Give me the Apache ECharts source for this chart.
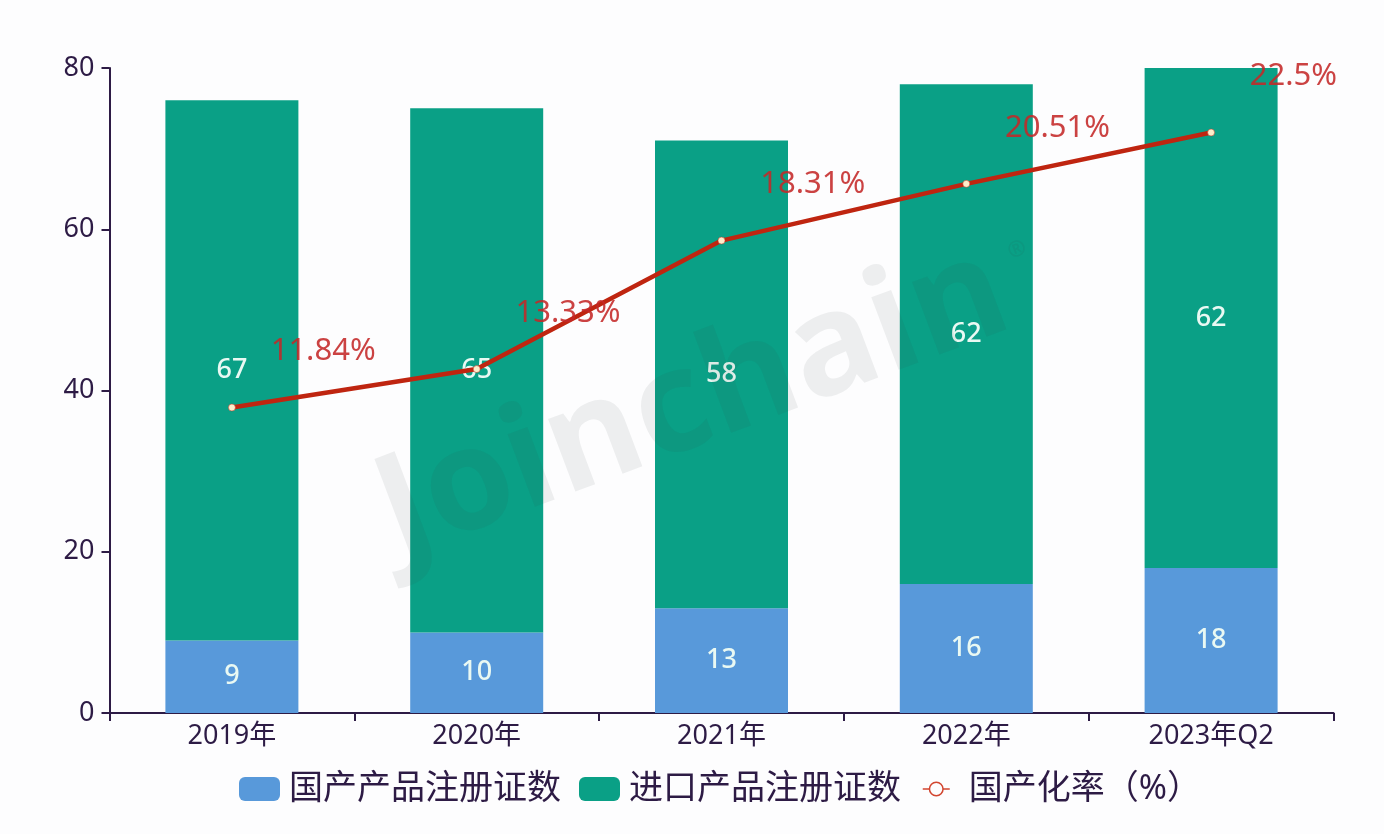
<!DOCTYPE html>
<html>
<head>
<meta charset="utf-8">
<style>
html, body { margin: 0; padding: 0; background: #fdfdfe; }
#chart { width: 1384px; height: 834px; }
</style>
<script src="https://cdn.jsdelivr.net/npm/echarts@6/dist/echarts.min.js"></script>
</head>
<body>
<div id="chart"></div>
<script>
const categories = ['2019年', '2020年', '2021年', '2022年', '2023年Q2'];
const domesticCounts = [9, 10, 13, 16, 18];
const importedCounts = [67, 65, 58, 62, 62];
const domesticRates = [11.84, 13.33, 18.31, 20.51, 22.5];

const textColor = '#2d1b45';
const fontFamily = '"Noto Sans", "Noto Sans CJK SC", sans-serif';

const myChart = echarts.init(document.getElementById('chart'));

const barLabel = {
    show: true,
    position: 'inside',
    color: '#e9f9f3',
    fontSize: 27,
    fontWeight: 500,
    fontFamily: fontFamily
};

const option = {
    animation: false,
    textStyle: { fontFamily: fontFamily },
    grid: { left: 109.5, top: 68, width: 1224, height: 645 },
    legend: [{
        data: ['国产产品注册证数', '进口产品注册证数'],
        left: 234,
        top: 767,
        itemWidth: 41,
        itemHeight: 24,
        itemGap: 18,
        itemStyle: { borderRadius: 6 },
        textStyle: { color: textColor, fontSize: 34, fontFamily: fontFamily, padding: [0, 0, 0, 4] }
    }, {
        data: ['国产化率（%）'],
        left: 917,
        top: 767,
        itemWidth: 27,
        itemHeight: 17,
        itemStyle: { color: '#fdfdfe', borderColor: '#d2452f', borderWidth: 1.5 },
        lineStyle: { color: '#d2452f', width: 1.5 },
        textStyle: { color: textColor, fontSize: 34, fontFamily: fontFamily, padding: [0, 0, 0, 14] }
    }],
    xAxis: {
        type: 'category',
        data: categories,
        axisLine: { lineStyle: { color: textColor, width: 2 } },
        axisTick: { show: true, length: 8, lineStyle: { color: textColor, width: 2 } },
        axisLabel: { color: textColor, fontSize: 27, margin: 10 }
    },
    yAxis: [{
        type: 'value',
        min: 0,
        max: 80,
        interval: 20,
        splitLine: { show: false },
        axisLine: { show: true, lineStyle: { color: textColor, width: 2 } },
        axisTick: { show: true, length: 8, lineStyle: { color: textColor, width: 2 } },
        axisLabel: { color: textColor, fontSize: 27, margin: 15 }
    }, {
        // 国产化率用隐藏的第二坐标轴
        type: 'value',
        min: 0,
        max: 25,
        show: false,
        splitLine: { show: false }
    }],
    graphic: [{
        type: 'text',
        x: 693,
        y: 404,
        rotation: 0.36,
        z: 3,
        style: {
            text: 'Joinchain',
            fill: 'rgba(50, 60, 70, 0.08)',
            font: 'bold 142px "Open Sans", sans-serif',
            align: 'center',
            verticalAlign: 'middle'
        }
    }, {
        type: 'text',
        x: 1017,
        y: 250,
        rotation: 0.36,
        z: 3,
        style: {
            text: '®',
            fill: 'rgba(50, 60, 70, 0.08)',
            font: 'bold 22px "Open Sans", sans-serif',
            align: 'center',
            verticalAlign: 'middle'
        }
    }],
    series: [{
        name: '国产产品注册证数',
        type: 'bar',
        stack: 'total',
        barWidth: 133,
        data: domesticCounts,
        itemStyle: { color: '#5899da' },
        label: barLabel
    }, {
        name: '进口产品注册证数',
        type: 'bar',
        stack: 'total',
        data: importedCounts,
        itemStyle: { color: '#0aa086' },
        label: barLabel
    }, {
        name: '国产化率（%）',
        type: 'line',
        yAxisIndex: 1,
        data: domesticRates,
        z: 5,
        symbol: 'circle',
        symbolSize: 7,
        lineStyle: { color: '#bf2510', width: 4.5 },
        itemStyle: { color: '#fdeecb', borderColor: '#c3281a', borderWidth: 0.5 },
        label: {
            show: true,
            position: 'right',
            offset: [30, -56],
            color: 'rgba(196, 40, 40, 0.88)',
            fontSize: 31,
            formatter: '{c}%'
        }
    }]
};
myChart.setOption(option);
</script>
</body>
</html>
